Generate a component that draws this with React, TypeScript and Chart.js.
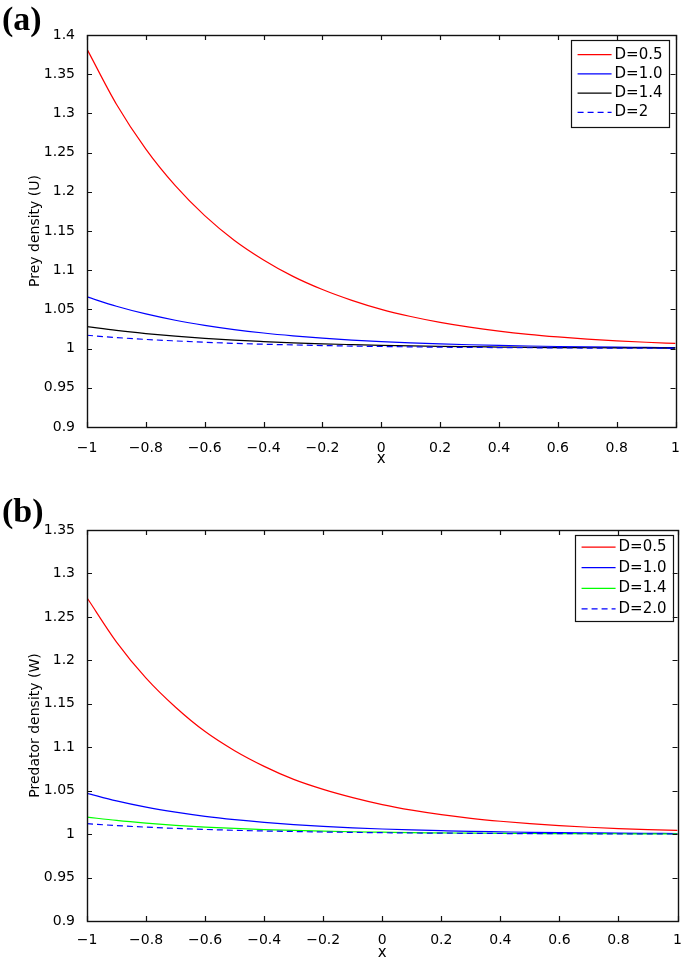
import React, { useEffect, useRef } from "react";
import { Chart, registerables } from "chart.js";

Chart.register(...registerables);

// ---------- data ----------
const xs = [-1, -0.9, -0.8, -0.7, -0.6, -0.5, -0.4, -0.3, -0.2, -0.1, 0, 0.1, 0.2, 0.3, 0.4, 0.5, 0.6, 0.7, 0.8, 0.9, 1];

// (a) prey density U
const preyD05 = [1.382, 1.3117, 1.2544, 1.2078, 1.1696, 1.1383, 1.1131, 1.0921, 1.0753, 1.0615, 1.05, 1.0409, 1.0334, 1.0273, 1.0223, 1.0182, 1.0149, 1.0121, 1.0099, 1.0081, 1.0066];
const preyD10 = [1.066, 1.054, 1.0442, 1.0362, 1.0297, 1.0243, 1.0199, 1.0163, 1.0133, 1.0109, 1.0089, 1.0073, 1.006, 1.0049, 1.004, 1.0033, 1.0027, 1.0022, 1.0018, 1.0015, 1.0012];
const preyD14 = [1.028, 1.0232, 1.0192, 1.0158, 1.0131, 1.0108, 1.009, 1.0074, 1.0061, 1.0051, 1.0042, 1.0035, 1.0029, 1.0024, 1.002, 1.0016, 1.0013, 1.0011, 1.0009, 1.0008, 1.0006];
const preyD20 = [1.017, 1.0141, 1.0117, 1.0098, 1.0081, 1.0067, 1.0056, 1.0047, 1.0039, 1.0032, 1.0027, 1.0022, 1.0018, 1.0015, 1.0013, 1.0011, 1.0009, 1.0007, 1.0006, 1.0005, 1.0004];

// (b) predator density W
const predD05 = [1.272, 1.221, 1.1795, 1.146, 1.118, 1.096, 1.078, 1.063, 1.0515, 1.042, 1.034, 1.0276, 1.0224, 1.0182, 1.0148, 1.012, 1.0098, 1.0079, 1.0064, 1.0052, 1.0042];
const predD10 = [1.047, 1.0382, 1.031, 1.0252, 1.0204, 1.0166, 1.0135, 1.011, 1.0089, 1.0072, 1.0059, 1.0048, 1.0039, 1.0031, 1.0026, 1.0021, 1.0017, 1.0014, 1.0011, 1.0009, 1.0007];
const predD14 = [1.0196, 1.0157, 1.0126, 1.0101, 1.0081, 1.0065, 1.0052, 1.0042, 1.0034, 1.0027, 1.0022, 1.0017, 1.0014, 1.0011, 1.0009, 1.0007, 1.0006, 1.0005, 1.0004, 1.0003, 1.0002];
const predD20 = [1.012, 1.0098, 1.008, 1.0066, 1.0054, 1.0044, 1.0036, 1.003, 1.0024, 1.002, 1.0016, 1.0013, 1.0011, 1.0009, 1.0007, 1.0006, 1.0005, 1.0004, 1.0003, 1.0003, 1.0002];

const preyLabels = ["D=0.5", "D=1.0", "D=1.4", "D=2"];
const predLabels = ["D=0.5", "D=1.0", "D=1.4", "D=2.0"];
const preyColors = ["#ff0000", "#0000ff", "#000000", "#0000ff"];
const predColors = ["#ff0000", "#0000ff", "#00ff00", "#0000ff"];
const dashStyles: number[][] = [[], [], [], [6, 4]];

const xTickValues = [-1, -0.8, -0.6, -0.4, -0.2, 0, 0.2, 0.4, 0.6, 0.8, 1];
const preyYTicks = [0.9, 0.95, 1, 1.05, 1.1, 1.15, 1.2, 1.25, 1.3, 1.35, 1.4];
const predYTicks = [0.9, 0.95, 1, 1.05, 1.1, 1.15, 1.2, 1.25, 1.3, 1.35];

// ---------- helpers ----------
const FONT = "DejaVu Sans";

function fmt(v: number): string {
  const s = String(Math.round(v * 100) / 100);
  return s.replace("-", "\u2212");
}

const boxTicksPlugin = {
  id: "boxTicks",
  afterDraw(chart: any) {
    const { ctx, chartArea } = chart;
    const { left, right, top, bottom } = chartArea;
    const xs2 = chart.scales.x;
    const ys2 = chart.scales.y;
    const len = 5;
    ctx.save();
    ctx.strokeStyle = "#111";
    ctx.lineWidth = 1.2;
    ctx.beginPath();
    xs2.ticks.forEach((t: any) => {
      const px = Math.round(xs2.getPixelForValue(t.value)) + 0.5;
      ctx.moveTo(px, bottom);
      ctx.lineTo(px, bottom - len);
      ctx.moveTo(px, top);
      ctx.lineTo(px, top + len);
    });
    ys2.ticks.forEach((t: any) => {
      const py = Math.round(ys2.getPixelForValue(t.value)) + 0.5;
      ctx.moveTo(left, py);
      ctx.lineTo(left + len, py);
      ctx.moveTo(right, py);
      ctx.lineTo(right - len, py);
    });
    ctx.stroke();
    ctx.lineWidth = 1.4;
    ctx.strokeRect(Math.round(left) + 0.5, Math.round(top) + 0.5, Math.round(right - left), Math.round(bottom - top));
    ctx.restore();
  },
};

const boxLegendPlugin = {
  id: "boxLegend",
  afterDraw(chart: any, _args: any, opts: any) {
    const { ctx, chartArea } = chart;
    const ds = chart.data.datasets;
    ctx.save();
    ctx.font = `15px "${FONT}"`;
    const maxW = Math.max(...ds.map((d: any) => ctx.measureText(d.label).width));
    const rowH = opts.rowHeight || 19;
    const boxH = opts.boxHeight || 86;
    const w = 44 + maxW + 6;
    const right = chartArea.right - (opts.rightGap || 6);
    const left = right - w;
    const top = chartArea.top + (opts.topGap || 5);
    ctx.fillStyle = "#fff";
    ctx.fillRect(left, top, w, boxH);
    ctx.strokeStyle = "#111";
    ctx.lineWidth = 1.2;
    ctx.strokeRect(Math.round(left) + 0.5, Math.round(top) + 0.5, Math.round(w), Math.round(boxH));
    const startY = top + (boxH - ds.length * rowH) / 2 + rowH / 2;
    ds.forEach((d: any, i: number) => {
      const y = startY + i * rowH;
      ctx.beginPath();
      ctx.strokeStyle = d.borderColor;
      ctx.lineWidth = 1.2;
      ctx.setLineDash(d.borderDash || []);
      ctx.moveTo(left + 7, y);
      ctx.lineTo(left + 41, y);
      ctx.stroke();
      ctx.setLineDash([]);
      ctx.fillStyle = "#000";
      ctx.textAlign = "left";
      ctx.textBaseline = "middle";
      ctx.fillText(d.label, left + 44, y);
    });
    ctx.restore();
  },
};

interface PanelProps {
  top: number;
  height: number;
  padTop: number;
  xAxisHeight: number;
  xTickPad: number;
  xTitlePadBottom: number;
  yTicks: number[];
  yTitle: string;
  series: number[][];
  labels: string[];
  colors: string[];
  rowHeight: number;
  boxHeight: number;
  rightGap: number;
}

function Panel(p: PanelProps) {
  const ref = useRef<HTMLCanvasElement | null>(null);
  useEffect(() => {
    if (!ref.current) return;
    const chart = new Chart(ref.current, {
      type: "line",
      data: {
        datasets: p.series.map((s, i) => ({
          label: p.labels[i],
          data: xs.map((x, j) => ({ x, y: s[j] })),
          borderColor: p.colors[i],
          backgroundColor: p.colors[i],
          borderWidth: 1.2,
          borderDash: dashStyles[i],
          pointRadius: 0,
          cubicInterpolationMode: "monotone",
          fill: false,
          order: p.series.length - i,
        })),
      },
      options: {
        animation: false,
        responsive: false,
        devicePixelRatio: 1,
        layout: { padding: { left: 0, right: 5, top: p.padTop, bottom: 0 } },
        plugins: {
          legend: { display: false },
          tooltip: { enabled: false },
          boxLegend: { rowHeight: p.rowHeight, boxHeight: p.boxHeight, rightGap: p.rightGap, topGap: 5 },
        } as any,
        scales: {
          x: {
            type: "linear",
            min: -1,
            max: 1,
            grid: { display: false },
            border: { display: false },
            afterBuildTicks: (s: any) => {
              s.ticks = xTickValues.map((v) => ({ value: v }));
            },
            afterFit: (s: any) => {
              s.height = p.xAxisHeight;
            },
            ticks: {
              color: "#000",
              font: { family: FONT, size: 14 },
              padding: p.xTickPad,
              maxRotation: 0,
              autoSkip: false,
              callback: (v: any) => fmt(Number(v)),
            },
            title: {
              display: true,
              text: "x",
              color: "#000",
              font: { family: FONT, size: 15 },
              padding: { top: 0, bottom: p.xTitlePadBottom },
            },
          },
          y: {
            type: "linear",
            min: p.yTicks[0],
            max: p.yTicks[p.yTicks.length - 1],
            grid: { display: false },
            border: { display: false },
            afterBuildTicks: (s: any) => {
              s.ticks = p.yTicks.map((v) => ({ value: v }));
            },
            afterFit: (s: any) => {
              s.width = 87;
            },
            ticks: {
              color: "#000",
              font: { family: FONT, size: 14 },
              padding: 4,
              autoSkip: false,
              callback: (v: any) => fmt(Number(v)),
            },
            title: {
              display: true,
              text: p.yTitle,
              color: "#000",
              font: { family: FONT, size: 14 },
              padding: { top: 26.6, bottom: 0 },
            },
          },
        },
      } as any,
      plugins: [boxTicksPlugin, boxLegendPlugin],
    });
    return () => chart.destroy();
  }, []);
  return (
    <canvas
      ref={ref}
      width={685}
      height={p.height}
      style={{ position: "absolute", left: 0, top: p.top, width: 685, height: p.height, display: "block" }}
    />
  );
}

const tagStyle: React.CSSProperties = {
  position: "absolute",
  left: 2,
  fontFamily: '"Liberation Serif", "Times New Roman", serif',
  fontWeight: "bold",
  fontSize: 34,
  lineHeight: "34px",
  color: "#000",
  margin: 0,
};

export default function App() {
  return (
    <div style={{ position: "absolute", left: 0, top: 0, width: 685, height: 962, background: "#fff", overflow: "hidden" }}>
      <Panel
        top={0}
        height={480}
        padTop={35}
        xAxisHeight={53}
        xTickPad={5}
        xTitlePadBottom={11.6}
        yTicks={preyYTicks}
        yTitle="Prey density (U)"
        series={[preyD05, preyD10, preyD14, preyD20]}
        labels={preyLabels}
        colors={preyColors}
        rowHeight={19.2}
        boxHeight={87}
        rightGap={7}
      />
      <Panel
        top={480}
        height={482}
        padTop={50}
        xAxisHeight={41}
        xTickPad={3}
        xTitlePadBottom={0}
        yTicks={predYTicks}
        yTitle="Predator density (W)"
        series={[predD05, predD10, predD14, predD20]}
        labels={predLabels}
        colors={predColors}
        rowHeight={20.6}
        boxHeight={86}
        rightGap={5}
      />
      <div style={{ ...tagStyle, top: 2 }}>(a)</div>
      <div style={{ ...tagStyle, top: 494 }}>(b)</div>
    </div>
  );
}
